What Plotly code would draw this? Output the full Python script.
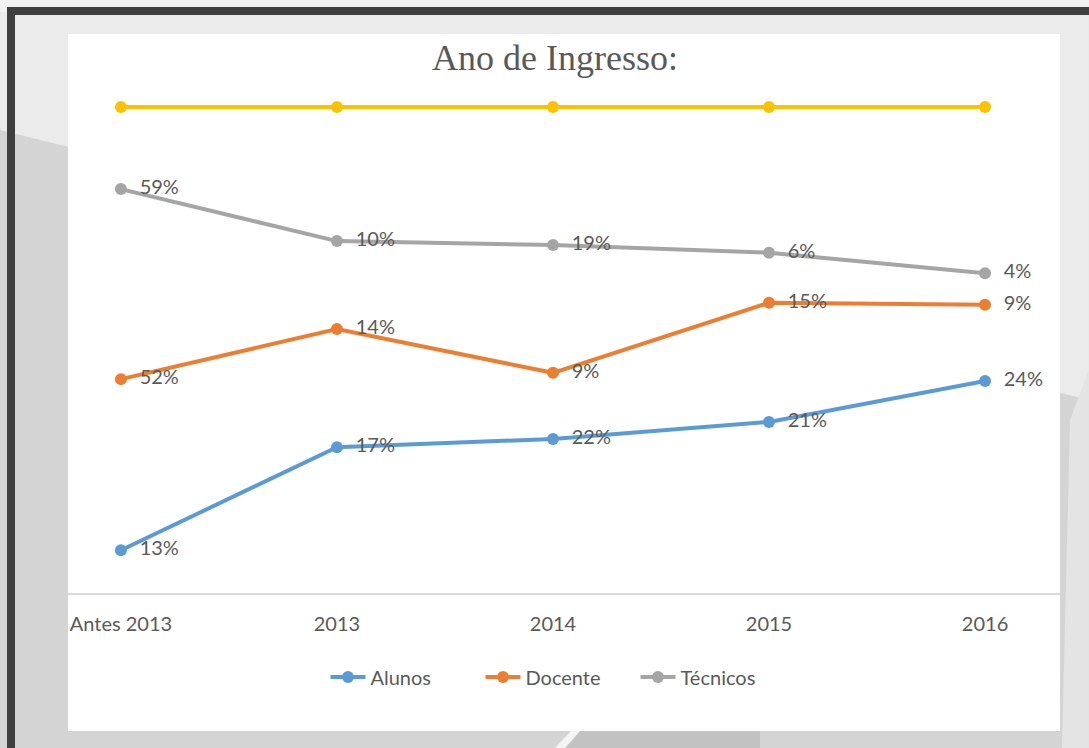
import plotly.graph_objects as go

# categorias do eixo x
anos = ["Antes 2013", "2013", "2014", "2015", "2016"]

# parcelas de cada série (linhas empilhadas a 100%)
alunos = [8.8, 30.0, 31.7, 35.2, 43.6]
docente = [35.2, 24.3, 13.6, 24.5, 15.7]
tecnicos = [39.1, 18.1, 26.3, 10.3, 6.5]
outros = [16.9, 27.6, 28.4, 30.0, 34.2]

# rótulos mostrados junto aos pontos
rot_alunos = ["13%", "17%", "22%", "21%", "24%"]
rot_docente = ["52%", "14%", "9%", "15%", "9%"]
rot_tecnicos = ["59%", "10%", "19%", "6%", "4%"]

W, H = 1089, 748
ML, MR, MT, MB = 68, 29, 70, 155
PW, PH = W - ML - MR, H - MT - MB


def px(x, y):
    # pixel da página -> coordenadas "paper"
    return (x - ML) / PW, (H - MB - y) / PH


def path(pts):
    s = ""
    for i, (x, y) in enumerate(pts):
        a, b = px(x, y)
        s += ("M" if i == 0 else "L") + f"{a:.4f},{b:.4f} "
    return s + "Z"


def caixa(x0, y0, x1, y1, **kw):
    a0, b0 = px(x0, y1)
    a1, b1 = px(x1, y0)
    return dict(type="rect", xref="paper", yref="paper",
                x0=a0, x1=a1, y0=b0, y1=b1, layer="below", **kw)


def poli(pts, cor):
    return dict(type="path", xref="paper", yref="paper", path=path(pts),
                fillcolor=cor, line_width=0, layer="below")


texto = "#595959"
fonte = "Lato, 'Open Sans', sans-serif"

fig = go.Figure()

series = [
    ("Alunos", alunos, rot_alunos, "#5B9BD5", True),
    ("Docente", docente, rot_docente, "#ED7D31", True),
    ("Técnicos", tecnicos, rot_tecnicos, "#A5A5A5", True),
    ("Outros", outros, None, "#FFC000", False),
]

for i, (nome, vals, rot, cor, leg) in enumerate(series):
    fig.add_trace(go.Scatter(
        x=anos,
        y=vals,
        name=nome,
        stackgroup="a",
        groupnorm="percent" if i == 0 else None,
        fill="none",
        mode="lines+markers+text" if rot else "lines+markers",
        text=rot,
        texttemplate="  %{text}" if rot else None,
        textposition="middle right",
        textfont=dict(size=20, color=texto, family=fonte),
        line=dict(color=cor, width=4),
        marker=dict(color=cor, size=12),
        showlegend=leg,
        cliponaxis=False,
    ))

# fundo do slide
shapes = [
    caixa(-10, -10, W + 10, H + 10, fillcolor="#d4d4d4", line_width=0),
    poli([(0, 0), (W, 0), (W, 400), (0, 130)], "#ebebeb"),
    poli([(0, 0), (W, 0), (W, 12), (0, 12)], "#f2f2f2"),
    poli([(1089, 370), (1070, 420), (1062, 748), (1089, 748)], "#e4e4e4"),
    poli([(565, 748), (580, 731), (760, 731), (760, 748)], "#c2c2c2"),
    poli([(555, 748), (571, 731), (580, 731), (565, 748)], "#f4f4f4"),
    # moldura escura
    caixa(11, 11, W + 20, H + 20, fillcolor="rgba(0,0,0,0)",
          line=dict(color="#3f3f3f", width=8)),
    # área branca do gráfico
    caixa(68, 34, 1060, 731, fillcolor="white", line_width=0),
]

fig.update_layout(
    width=W,
    height=H,
    margin=dict(l=ML, r=MR, t=MT, b=MB),
    paper_bgcolor="#d4d4d4",
    plot_bgcolor="rgba(0,0,0,0)",
    shapes=shapes,
    title=dict(
        text="Ano de Ingresso:",
        x=555 / W, xref="container", xanchor="center",
        y=1 - 57 / H, yref="container", yanchor="middle",
        font=dict(family="'Liberation Serif', 'DejaVu Serif', serif", size=36, color=texto),
    ),
    xaxis=dict(
        range=[-0.245, 4.347],
        showgrid=False,
        zeroline=False,
        showline=True,
        linecolor="#d9d9d9",
        linewidth=1.5,
        ticks="",
        ticklabelstandoff=12,
        tickfont=dict(size=20, color=texto, family=fonte),
        fixedrange=True,
    ),
    yaxis=dict(
        range=[0, 107.6],
        visible=False,
        fixedrange=True,
    ),
    legend=dict(
        orientation="h",
        xref="container", yref="container",
        x=558 / W, xanchor="center",
        y=1 - 677 / H, yanchor="middle",
        font=dict(size=20, color=texto, family=fonte),
        bgcolor="rgba(0,0,0,0)",
        entrywidth=105,
        itemwidth=35,
    ),
    hovermode="x",
)

fig.write_html("out.html", config={"displayModeBar": False},
               post_script="document.body.style.margin='0';")
